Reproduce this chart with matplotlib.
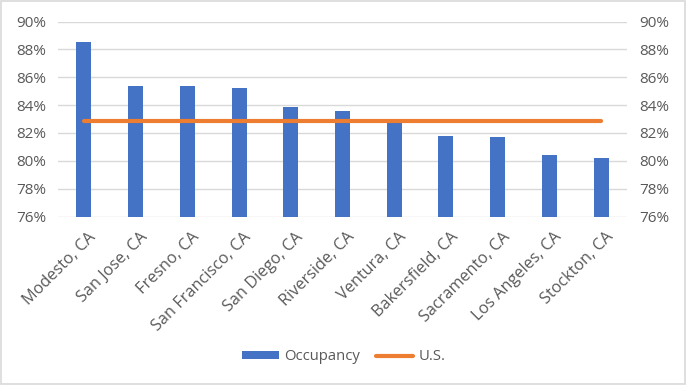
import matplotlib.pyplot as plt
import matplotlib.transforms as mtransforms
from matplotlib.ticker import PercentFormatter
from matplotlib.patches import Rectangle

cities = ["Modesto, CA", "San Jose, CA", "Fresno, CA", "San Francisco, CA", "San Diego, CA",
          "Riverside, CA", "Ventura, CA", "Bakersfield, CA", "Sacramento, CA",
          "Los Angeles, CA", "Stockton, CA"]
occupancy = [88.5, 85.4, 85.4, 85.25, 83.85, 83.6, 82.95, 81.75, 81.7, 80.4, 80.2]
us_level = [82.88] * len(cities)

plt.rcParams['font.family'] = ['Open Sans', 'DejaVu Sans']

fig = plt.figure(figsize=(6.87, 3.85), dpi=100)
ax = fig.add_axes([58 / 687, 1 - 216.5 / 385, (627 - 58) / 687, (216.5 - 21.5) / 385])

x = range(len(cities))
bars = ax.bar(x, occupancy, width=0.29, color="#4472c4", label="Occupancy", zorder=2)
line, = ax.plot(x, us_level, color="#ed7d31", lw=3, solid_capstyle="round", label="U.S.", zorder=3)

ax.set_ylim(76, 90)
ax.set_xlim(-0.5, len(cities) - 0.5)
ax.set_yticks(range(76, 91, 2))
ax.yaxis.set_major_formatter(PercentFormatter(decimals=0))
ax.tick_params(axis="y", labelright=True, right=False, left=False,
               labelsize=11, labelcolor="#595959", pad=5)
ax.tick_params(axis="x", length=0, labelsize=11.7, labelcolor="#595959", pad=9)
ax.set_xticks(list(x))
ax.set_xticklabels(cities, rotation=45, ha="right", rotation_mode="anchor")
shift = mtransforms.ScaledTranslation(4 / 100, 0, fig.dpi_scale_trans)
for lbl in ax.get_xticklabels():
    lbl.set_transform(lbl.get_transform() + shift)
ax.grid(axis="y", color="#d9d9d9", lw=1, zorder=0)
for s in ax.spines.values():
    s.set_visible(False)

ax.legend([bars, line], ["Occupancy", "U.S."], loc="center",
          bbox_to_anchor=(0.5, 1 - 357 / 385), bbox_transform=fig.transFigure,
          ncol=2, frameon=False, fontsize=10.7, labelcolor="#595959",
          handlelength=2.5, handleheight=0.5, handletextpad=0.35, columnspacing=1.1)

fig.patches.append(Rectangle((0.002, 0.003), 0.995, 0.994, transform=fig.transFigure,
                             fill=False, edgecolor="#d9d9d9", lw=1.2))

fig.savefig("out.png", dpi=100)
